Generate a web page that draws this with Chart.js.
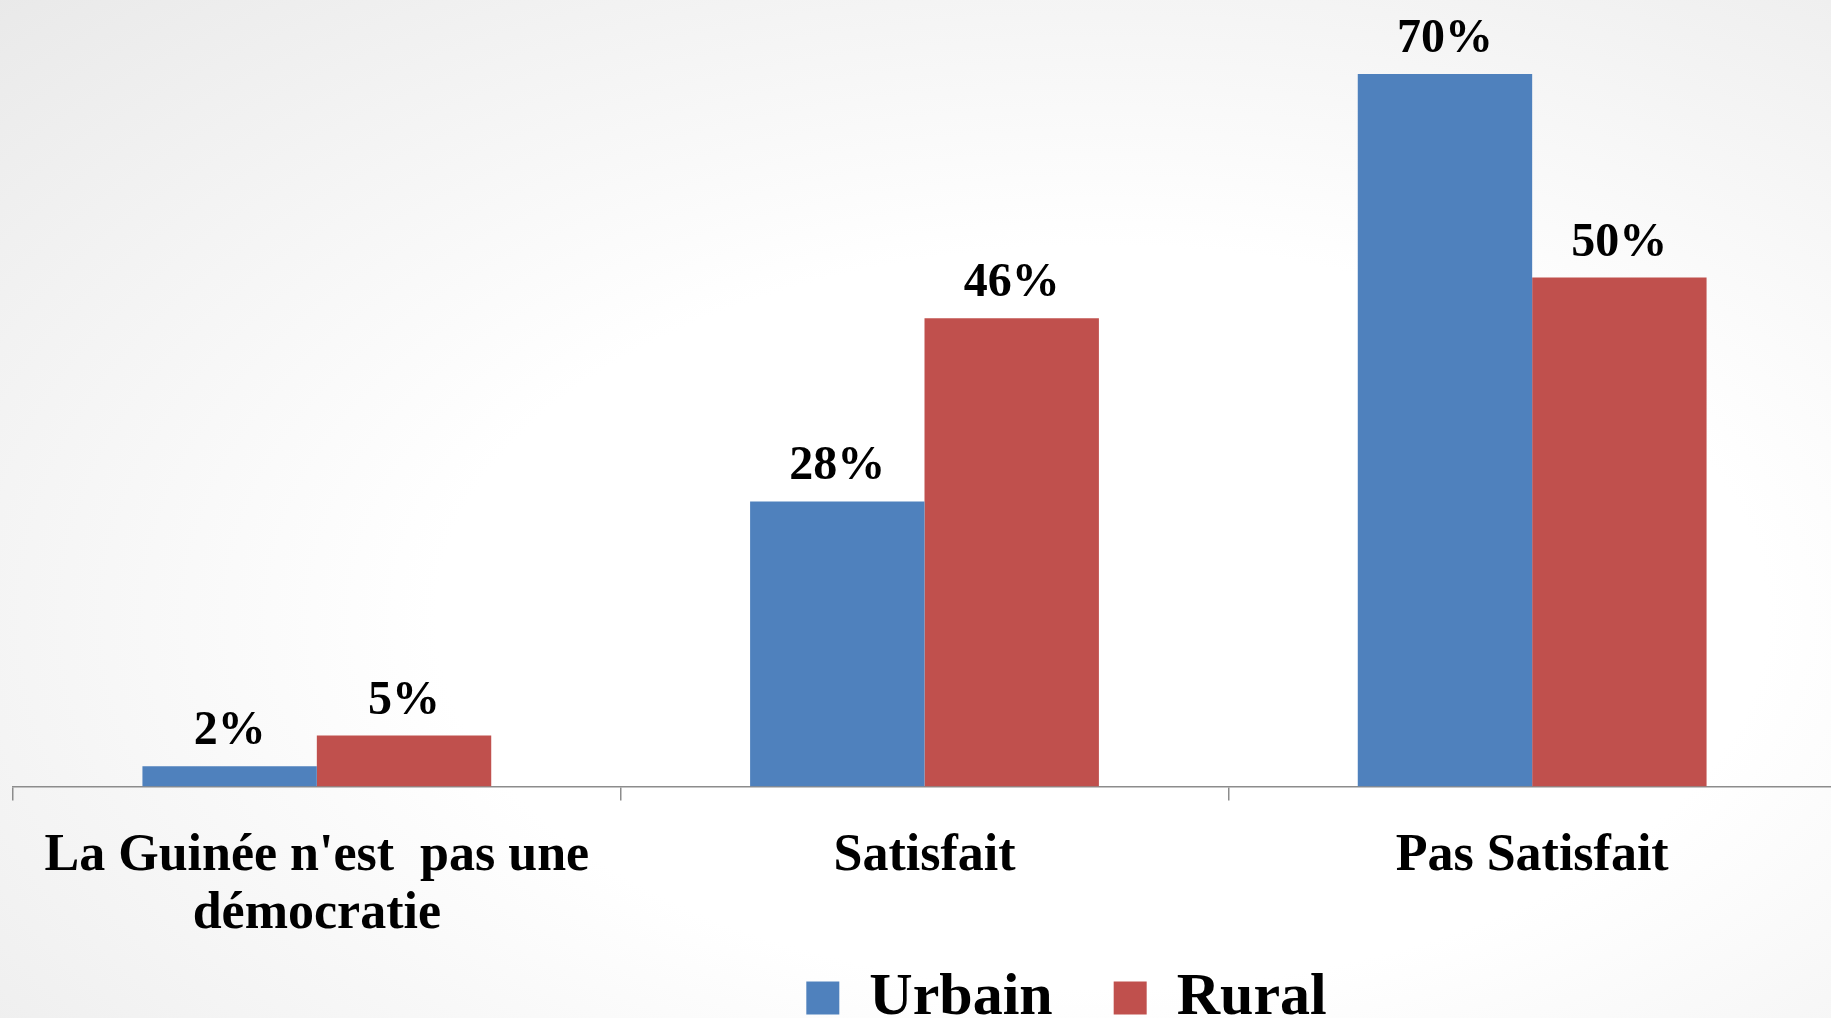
<!DOCTYPE html>
<html>
<head>
<meta charset="utf-8">
<script src="https://cdn.jsdelivr.net/npm/chart.js@4"></script>
<style>
  html, body { margin: 0; padding: 0; overflow: hidden; }
  #wrap {
    width: 1836px; height: 1102px; position: relative;
    background: radial-gradient(ellipse 1900px 1060px at 60% 56%, #ffffff 35%, #e1e1e1 100%);
  }
</style>
</head>
<body>
<div id="wrap"><canvas id="chart"></canvas></div>
<script>
const categories = [["La Guinée n'est  pas une", "démocratie"], "Satisfait", "Pas Satisfait"];
const urbain = [2, 28, 70];
const rural = [5, 46, 50];
const seriesNames = ["Urbain", "Rural"];

const serif = "'Liberation Serif', 'DejaVu Serif', serif";

// percentage labels above each bar
const valueLabels = {
  id: "valueLabels",
  afterDatasetsDraw(chart) {
    const ctx = chart.ctx;
    ctx.save();
    ctx.font = "bold 48px " + serif;
    ctx.fillStyle = "#000";
    ctx.textAlign = "center";
    ctx.textBaseline = "alphabetic";
    chart.data.datasets.forEach((ds, i) => {
      chart.getDatasetMeta(i).data.forEach((bar, j) => {
        ctx.fillText(ds.data[j] + "%", bar.x, bar.y - 22);
      });
    });
    ctx.restore();
  }
};

// the legend sits right of centre and tucked up close to the axis labels
const moveLegend = {
  id: "moveLegend",
  afterLayout(chart) {
    const lg = chart.legend;
    lg.left += 142;
    lg.right += 142;
    lg.top -= 64;
    lg.bottom -= 64;
  }
};

new Chart(document.getElementById("chart"), {
  type: "bar",
  data: {
    labels: categories,
    datasets: [
      { label: seriesNames[0], data: urbain, backgroundColor: "#4F81BD" },
      { label: seriesNames[1], data: rural, backgroundColor: "#C0504D" }
    ]
  },
  options: {
    responsive: true,
    maintainAspectRatio: false,
    animation: false,
    layout: { padding: { left: 13, right: 0, top: 23, bottom: 0 } },
    datasets: { bar: { categoryPercentage: 0.574, barPercentage: 1.0 } },
    plugins: {
      legend: {
        position: "bottom",
        labels: {
          font: { family: serif, size: 60, weight: "bold" },
          color: "#000",
          boxWidth: 33,
          boxHeight: 33,
          padding: 61
        }
      },
      tooltip: { enabled: false }
    },
    scales: {
      x: {
        grid: { display: true, drawOnChartArea: false, drawTicks: true, tickLength: 14, color: "#8c8c8c", lineWidth: 1.5 },
        border: { display: true, color: "#8c8c8c", width: 1.5 },
        ticks: {
          font: { family: serif, size: 52, weight: "bold", lineHeight: 1.12 },
          color: "#000",
          padding: 27,
          maxRotation: 0,
          autoSkip: false
        }
      },
      y: {
        display: false,
        min: 0,
        max: 75
      }
    }
  },
  plugins: [valueLabels, moveLegend]
});
</script>
</body>
</html>
